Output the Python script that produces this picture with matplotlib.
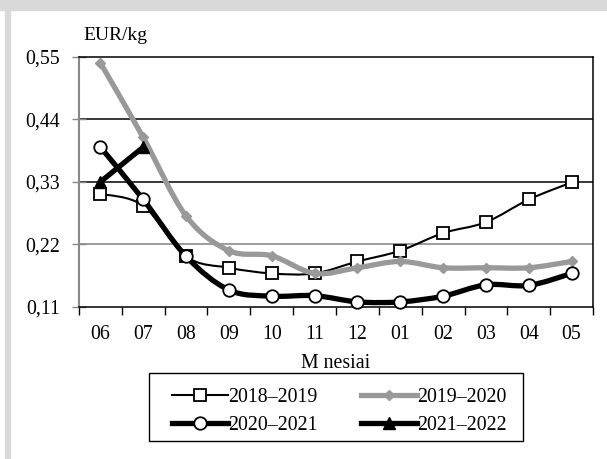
import matplotlib
matplotlib.use("Agg")
import matplotlib.pyplot as plt
import numpy as np
from matplotlib.path import Path
from matplotlib.patches import PathPatch, Rectangle
from matplotlib.lines import Line2D

plt.rcParams['font.family'] = ['Liberation Serif', 'DejaVu Serif']

months = ["06", "07", "08", "09", "10", "11", "12", "01", "02", "03", "04", "05"]
s2018 = [0.309, 0.288, 0.199, 0.179, 0.169, 0.169, 0.190, 0.209, 0.240, 0.259, 0.299, 0.329]
s2019 = [0.539, 0.408, 0.270, 0.209, 0.200, 0.169, 0.179, 0.190, 0.179, 0.179, 0.179, 0.190]
s2020 = [0.391, 0.299, 0.199, 0.140, 0.129, 0.130, 0.119, 0.119, 0.129, 0.149, 0.148, 0.169]
s2021 = [0.330, 0.391]
labels = ["2018–2019", "2019–2020", "2020–2021", "2021–2022"]
yticks = [0.11, 0.22, 0.33, 0.44, 0.55]


def smooth(xs, ys):
    # Excel-like smoothed line as cubic Bezier segments
    p = np.column_stack([xs, ys]).astype(float)
    verts = [p[0]]
    codes = [Path.MOVETO]
    n = len(p)
    for i in range(n - 1):
        p0 = p[i - 1] if i > 0 else p[i]
        p3 = p[i + 2] if i + 2 < n else p[i + 1]
        c1 = p[i] + (p[i + 1] - p0) / 6.0
        c2 = p[i + 1] - (p3 - p[i]) / 6.0
        verts += [c1, c2, p[i + 1]]
        codes += [Path.CURVE4] * 3
    return Path(verts, codes)


W, H = 607, 459
fig = plt.figure(figsize=(W / 100, H / 100), dpi=100)
# grey frame strips (top and left)
fig.patches.append(Rectangle((0, 1 - 10 / H), 1, 10 / H, transform=fig.transFigure,
                             color="#d9d9d9", zorder=0))
fig.patches.append(Rectangle((5 / W, 0), 5 / W, 1, transform=fig.transFigure,
                             color="#d9d9d9", zorder=0))

ax = fig.add_axes([79 / W, 1 - 307 / H, 514 / W, 250.3 / H])
x = np.arange(len(months))

styles = [
    dict(color="black", lw=1.5, marker="s", ms=8, mfc="white", mec="black", mew=1.3),
    dict(color="#999999", lw=3.8, marker="D", ms=5, mfc="#999999", mec="#999999", mew=1),
    dict(color="black", lw=3.8, marker="o", ms=9, mfc="white", mec="black", mew=1.3),
    dict(color="black", lw=3.8, marker="^", ms=8, mfc="black", mec="black", mew=1),
]
series = [s2018, s2019, s2020, s2021]

for i, (s, st) in enumerate(zip(series, styles)):
    xs = x[:len(s)]
    ax.add_patch(PathPatch(smooth(xs, s), fill=False, edgecolor=st["color"],
                           lw=st["lw"], zorder=3 + i, capstyle="round", joinstyle="round"))
    ax.plot(xs, s, linestyle="none", marker=st["marker"], ms=st["ms"], mfc=st["mfc"],
            mec=st["mec"], mew=st["mew"], zorder=3 + i, clip_on=False)

ax.set_xlim(-0.5, len(months) - 0.5)
ax.set_ylim(0.11, 0.55)
ax.set_yticks(yticks)
ax.set_yticklabels([f"{v:.2f}".replace(".", ",") for v in yticks], fontsize=14.3)
ax.set_xticks(x)
ax.set_xticklabels(months, fontsize=14.3)
ax.set_xticks(np.arange(len(months) + 1) - 0.5, minor=True)
ax.tick_params(axis="x", which="major", length=0, pad=13)
ax.tick_params(axis="x", which="minor", length=6, width=1, color="black", direction="out")
ax.tick_params(axis="y", length=10, width=1, color="#888888", direction="inout", pad=8.5)

for v, c in zip(yticks[1:4], ["#808080", "black", "black"]):
    ax.axhline(v, color=c, lw=1.1, zorder=1)

ax.spines["left"].set_color("#888888")
ax.spines["left"].set_linewidth(1.5)
for sp in ["top", "right", "bottom"]:
    ax.spines[sp].set_color("black")
    ax.spines[sp].set_linewidth(1.1)

ax.set_xlabel("M nesiai", fontsize=14.3, labelpad=7)
fig.text(83 / W, 1 - 35 / H, "EUR/kg", fontsize=14, ha="left", va="center")

handles = [Line2D([], [], color=st["color"], lw=st["lw"], marker=st["marker"],
                  ms=st["ms"], mfc=st["mfc"], mec=st["mec"], mew=st["mew"])
           for st in styles]
order = [0, 2, 1, 3]  # row-wise filling like the original
leg = fig.legend([handles[k] for k in order], [labels[k] for k in order], loc="center",
                 bbox_to_anchor=(339.5 / W, 1 - 411.5 / H), ncol=2, fontsize=14.3,
                 frameon=False, handlelength=2.8, handletextpad=0.0, columnspacing=2.2,
                 borderpad=0, labelspacing=0.42)
fig.patches.append(Rectangle((148.5 / W, 1 - 441 / H), 374 / W, 68 / H,
                             transform=fig.transFigure, fill=False,
                             edgecolor="black", lw=1.0, zorder=1))

fig.savefig("out.png", dpi=100)
